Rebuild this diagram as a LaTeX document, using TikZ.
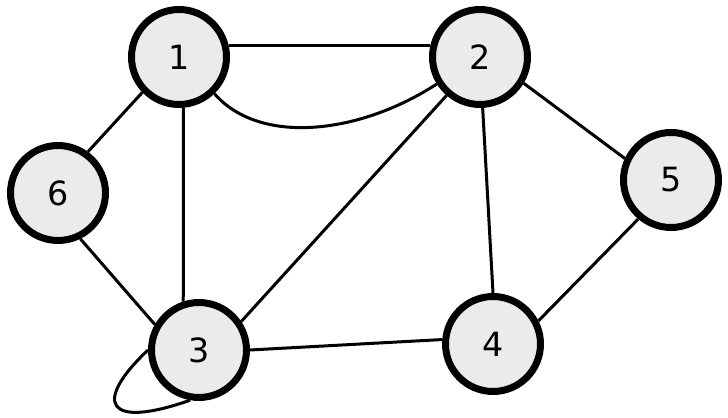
\documentclass[tikz,border=0pt]{standalone}
\usepackage{fontspec}
\setmainfont{DejaVu Sans}
\usetikzlibrary{positioning,calc}

\begin{document}
\begin{tikzpicture}
[x=0.02cm,y=-0.02cm,every node/.style={circle,draw=black,line width=0.14cm,fill=black!8,minimum size=1.9cm,inner sep=0pt,font=\fontsize{19}{19}\selectfont},
edgeline/.style={line width=0.06cm}]
\useasboundingbox (0,0) rectangle (728,418);

\node (n1) at (179,57) {1};
\node (n2) at (480,57) {2};
\node (n6) at (58,193) {6};
\node (n5) at (671,180) {5};
\node (n3) at (199,350) {3};
\node (n4) at (493,344) {4};

% edges
\draw[edgeline] (n1.13) -- (n2.167);
\draw[edgeline] (n1.-46) .. controls (260,146) and (360,134) .. (n2.212);
\draw[edgeline] (n1.224) -- (n6.54);
\draw[edgeline] (n1.-85) -- (n3.108);
\draw[edgeline] (n6.-64) -- (n3.150);
\draw[edgeline] (n2.229) -- (n3.34);
\draw[edgeline] (n2.-87) -- (n4.90);
\draw[edgeline] (n2.-31) -- (n5.155);
\draw[edgeline] (n3.0) -- (n4.175);
\draw[edgeline] (n4.27) -- (n5.230);
\draw[edgeline] (n3.180) .. controls (93,402) and (105,430) .. (n3.-100);
\end{tikzpicture}
\end{document}
